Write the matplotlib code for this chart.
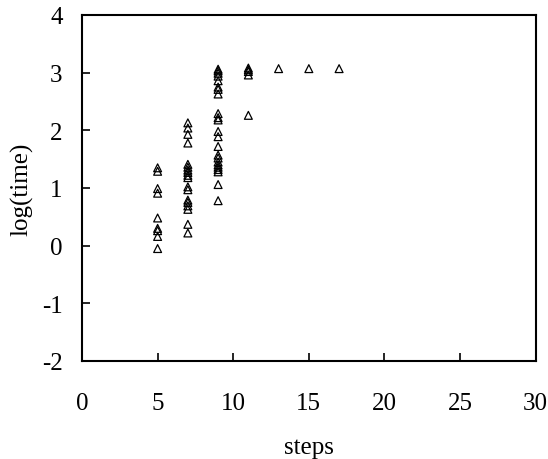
import matplotlib.pyplot as plt

plt.rcParams['font.family'] = ['Liberation Serif', 'DejaVu Serif']

# log(time) for each step count
steps_5 = [1.35, 1.29, 0.99, 0.91, 0.48, 0.30, 0.26, 0.16, -0.05]
steps_7 = [2.13, 2.04, 1.93, 1.78, 1.41, 1.36, 1.31, 1.27, 1.22, 1.18,
           1.02, 0.97, 0.79, 0.75, 0.69, 0.63, 0.37, 0.22]
steps_9 = [3.06, 3.03, 2.99, 2.94, 2.86, 2.75, 2.71, 2.63, 2.29, 2.22,
           2.18, 1.98, 1.89, 1.72, 1.57, 1.52, 1.45, 1.40, 1.36, 1.32,
           1.28, 1.06, 0.78]
steps_11 = [3.08, 3.05, 3.02, 2.96, 2.26]
steps_13 = [3.07]
steps_15 = [3.07]
steps_17 = [3.07]

groups = {5: steps_5, 7: steps_7, 9: steps_9, 11: steps_11,
          13: steps_13, 15: steps_15, 17: steps_17}

x = []
y = []
for s, vals in groups.items():
    x += [s] * len(vals)
    y += vals

fig = plt.figure(figsize=(5.48, 4.6), dpi=100)
fig.subplots_adjust(left=82 / 548, right=535.7 / 548, top=1 - 16 / 460, bottom=1 - 362 / 460)
ax = fig.add_subplot(111)

ax.scatter(x, y, marker='^', s=32, facecolors='none', edgecolors='black', linewidths=0.9)

ax.set_xlim(0, 30)
ax.set_ylim(-2, 4)
ax.set_xticks(range(0, 31, 5))
ax.set_yticks(range(-2, 5))
ax.set_yticklabels(['-2', '-1', '0', '1', '2', '3', '4'])
ax.tick_params(direction='in', length=6, width=1.2, labelsize=18)
ax.tick_params(axis='x', pad=22)
ax.tick_params(axis='y', pad=14)
ax.tick_params(top=False, right=False)
for sp in ax.spines.values():
    sp.set_linewidth(1.5)

ax.set_xlabel('steps', fontsize=18, labelpad=16)
ax.set_ylabel('log(time)', fontsize=18, labelpad=6)

fig.savefig('out.png', dpi=100)
